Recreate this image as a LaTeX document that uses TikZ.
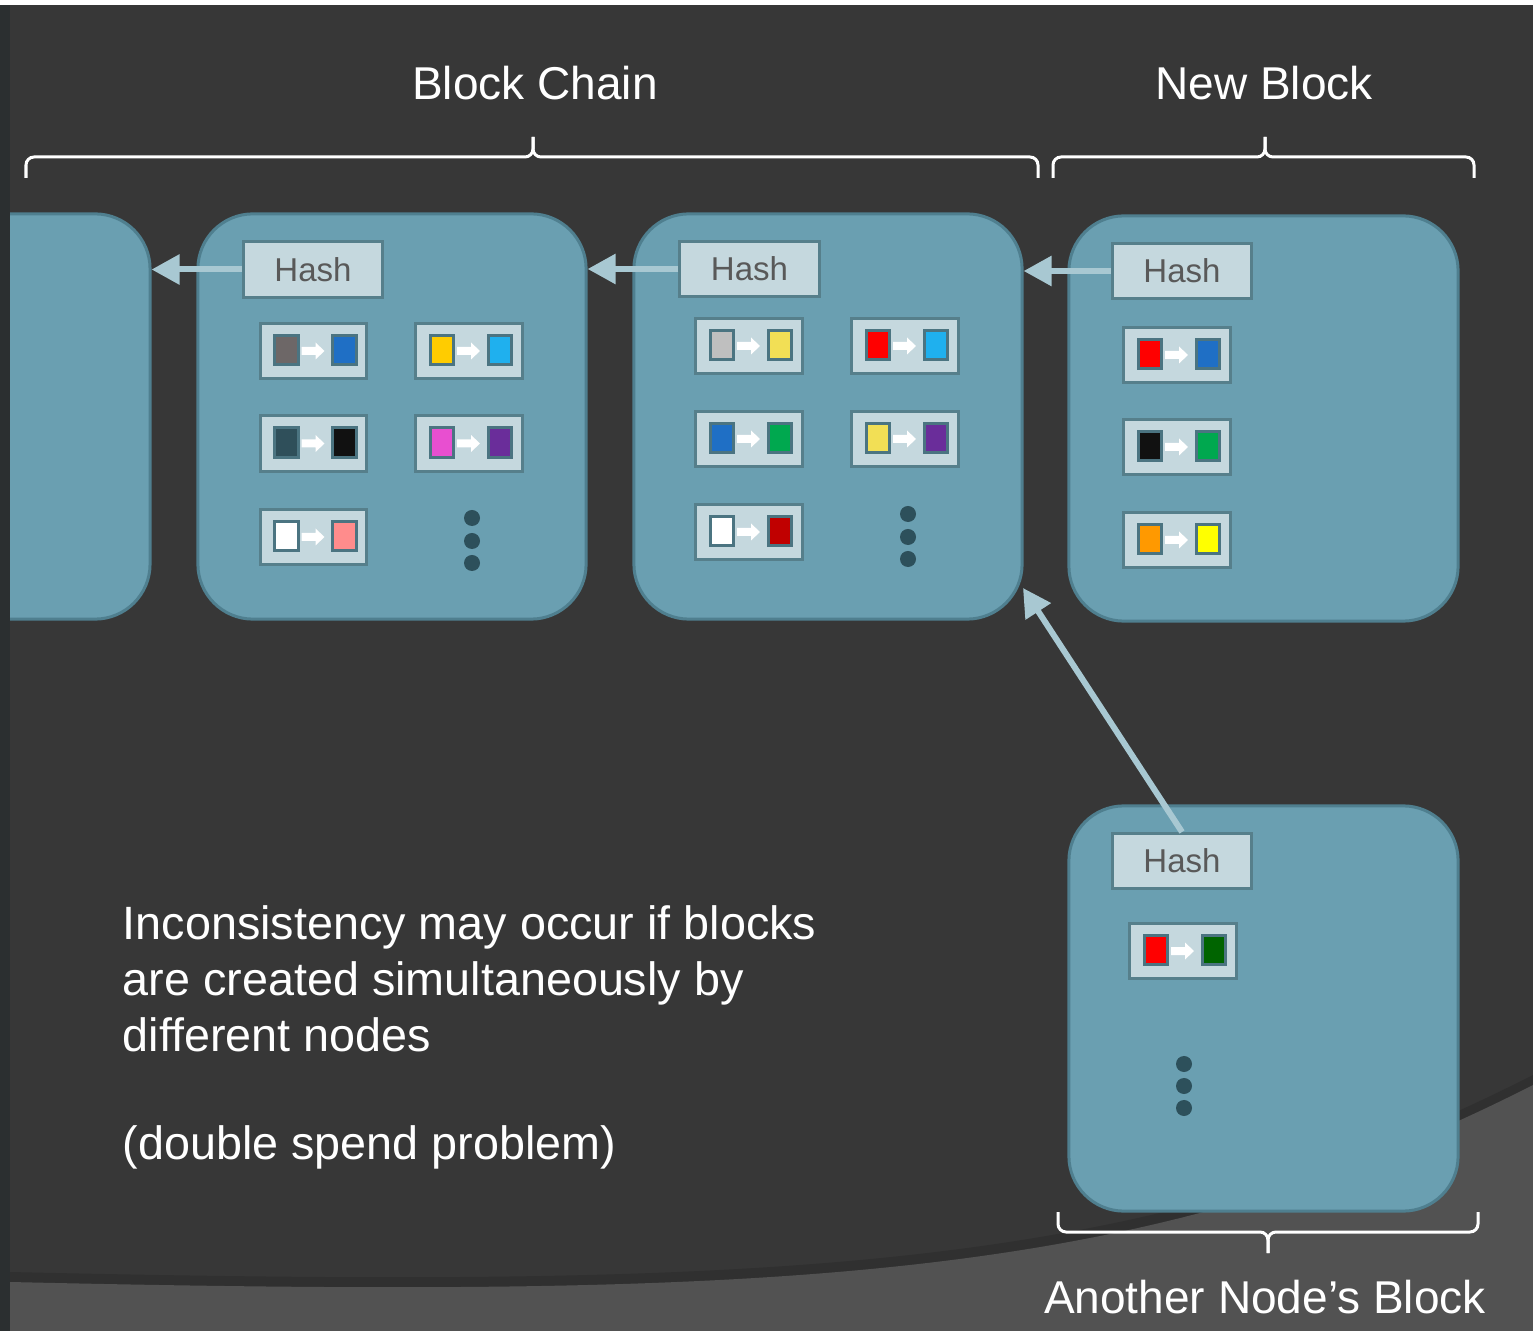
\documentclass[tikz,border=0pt]{standalone}
\usepackage{fontspec}
\setmainfont{Liberation Sans}
\usetikzlibrary{arrows.meta}

\definecolor{bgdark}{HTML}{373737}
\definecolor{floorc}{HTML}{525252}
\definecolor{shadowc}{HTML}{303030}
\definecolor{edgec}{HTML}{2B2F30}
\definecolor{blockfill}{HTML}{6A9FB1}
\definecolor{blockline}{HTML}{4F7F8F}
\definecolor{hashfill}{HTML}{C5D8DE}
\definecolor{hashline}{HTML}{567F8B}
\definecolor{hashtext}{HTML}{595959}
\definecolor{linkc}{HTML}{A8C8D2}
\definecolor{coinline}{HTML}{4B7481}
\definecolor{dotc}{HTML}{2D505B}
% coin colours
\definecolor{cgray}{HTML}{6D6767}
\definecolor{cblue}{HTML}{1F6FC5}
\definecolor{cgold}{HTML}{FFCC00}
\definecolor{ccyan}{HTML}{1FB0EE}
\definecolor{cteal}{HTML}{2F4F5A}
\definecolor{cblack}{HTML}{111111}
\definecolor{cmagenta}{HTML}{E84FD0}
\definecolor{cpurple}{HTML}{6A2D9A}
\definecolor{cpink}{HTML}{FF8C8C}
\definecolor{clgray}{HTML}{BFBFBF}
\definecolor{clyellow}{HTML}{F2DF55}
\definecolor{cred}{HTML}{FF0000}
\definecolor{cgreen}{HTML}{00A84F}
\definecolor{cdred}{HTML}{C00000}
\definecolor{corange}{HTML}{FF9900}
\definecolor{cyellow}{HTML}{FFFF00}
\definecolor{cdgreen}{HTML}{006400}

% one transaction: box with two coins and a small white arrow
\newcommand\txpair[5]{%
  \begin{scope}[shift={(#2,#3)}]
    \node[txbox] (#1) at (0,0) {};
    \node[coin, fill=#4] (#1a) at (-27,-1) {};
    \node[coin, fill=#5] (#1b) at (31,-1) {};
    \fill[white] (-12,-4) -- (2,-4) -- (2,-8.5) -- (11,0) -- (2,8.5) -- (2,4) -- (-12,4) -- cycle;
  \end{scope}}

\begin{document}
\begin{tikzpicture}[x=0.01cm,y=-0.01cm,
  block/.style={draw=blockline, fill=blockfill, line width=0.03cm,
    rounded corners=0.55cm, inner sep=0pt},
  hashbox/.style={draw=hashline, fill=hashfill, line width=0.03cm,
    minimum width=1.39cm, minimum height=0.55cm, inner sep=0pt,
    text=hashtext, font=\fontsize{9.4pt}{11pt}\selectfont},
  txbox/.style={draw=hashline, fill=hashfill, line width=0.03cm,
    minimum width=1.06cm, minimum height=0.55cm, inner sep=0pt},
  coin/.style={draw=coinline, line width=0.03cm,
    minimum width=0.23cm, minimum height=0.29cm, inner sep=0pt},
  dotmark/.style={circle, fill=dotc, minimum size=0.16cm, inner sep=0pt},
  link/.style={draw=linkc, line width=0.06cm,
    -{Triangle[length=0.28cm,width=0.29cm]}},
  bracket/.style={draw=white, line width=0.03cm, rounded corners=0.08cm},
  lbl/.style={text=white, font=\fontsize{13.09pt}{15.9pt}\selectfont, inner sep=0pt}
]
\useasboundingbox (0,0) rectangle (1533,1331);

% backdrop
\fill[bgdark] (0,0) rectangle (1533,1331);
\fill[white] (0,0) rectangle (1533,5);
\fill[shadowc] (10,1272) .. controls (800,1290) and (1150,1270) .. (1533,1075)
  -- (1533,1331) -- (10,1331) -- cycle;
\fill[floorc] (10,1282) .. controls (800,1300) and (1150,1280) .. (1533,1085)
  -- (1533,1331) -- (10,1331) -- cycle;

% blocks
\node[block, minimum width=2.30cm, minimum height=4.05cm] (b0) at (35,416.5) {};
\node[block, minimum width=3.88cm, minimum height=4.05cm] (b1) at (392,416.5) {};
\node[block, minimum width=3.88cm, minimum height=4.05cm] (b2) at (828,416.5) {};
\node[block, minimum width=3.89cm, minimum height=4.05cm] (b3) at (1263.5,418.5) {};
\node[block, minimum width=3.89cm, minimum height=4.05cm] (b4) at (1263.5,1008.5) {};

% hash headers
\node[hashbox] (h1) at (313,269.5) {Hash};
\node[hashbox] (h2) at (749.5,269) {Hash};
\node[hashbox] (h3) at (1182,271) {Hash};
\node[hashbox] (h4) at (1182,861) {Hash};

% links to the previous block
\coordinate (b2fork) at (1023,588);
\draw[link] (h1.west) -- (h1.west -| b0.east);
\draw[link] (h2.west) -- (h2.west -| b1.east);
\draw[link] (h3.west) -- (h3.west -| b2.east);
\draw[link] (h4.north) -- (b2fork);

% transactions, block 1
\txpair{t11}{313.5}{351}{cgray}{cblue}
\txpair{t12}{469}{351}{cgold}{ccyan}
\txpair{t13}{313.5}{443.5}{cteal}{cblack}
\txpair{t14}{469}{443.5}{cmagenta}{cpurple}
\txpair{t15}{313.5}{537}{white}{cpink}
\node[dotmark] (d11) at (472,518) {};
\node[dotmark] (d12) at (472,541) {};
\node[dotmark] (d13) at (472,563) {};

% transactions, block 2
\txpair{t21}{749}{346}{clgray}{clyellow}
\txpair{t22}{905}{346}{cred}{ccyan}
\txpair{t23}{749}{439}{cblue}{cgreen}
\txpair{t24}{905}{439}{clyellow}{cpurple}
\txpair{t25}{749}{532}{white}{cdred}
\node[dotmark] (d21) at (908,514) {};
\node[dotmark] (d22) at (908,537) {};
\node[dotmark] (d23) at (908,559) {};

% transactions, new block
\txpair{t31}{1177}{355}{cred}{cblue}
\txpair{t32}{1177}{447}{cblack}{cgreen}
\txpair{t33}{1177}{540}{corange}{cyellow}

% transactions, competing block
\txpair{t41}{1183}{951}{cred}{cdgreen}
\node[dotmark] (d41) at (1184,1064) {};
\node[dotmark] (d42) at (1184,1086) {};
\node[dotmark] (d43) at (1184,1108) {};

% left edge strip
\fill[edgec] (0,5) rectangle (10,1331);

% brackets
\draw[bracket] (26,178) |- (533,157) -- (533,137);
\draw[bracket] (1038,178) |- (533,157) -- (533,137);
\draw[bracket] (1053,178) |- (1265,157) -- (1265,137);
\draw[bracket] (1474,178) |- (1265,157) -- (1265,137);
\draw[bracket] (1058,1212) |- (1268,1232) -- (1268,1253);
\draw[bracket] (1478,1212) |- (1268,1232) -- (1268,1253);

% labels
\node[lbl, anchor=base] (tchain) at (535,100) {Block Chain};
\node[lbl, anchor=base] (tnew) at (1264,100) {New Block};
\node[lbl, anchor=base] (tother) at (1265,1313) {Another Node’s Block};
\node[lbl, anchor=base west, align=left,
  font=\fontsize{13.29pt}{15.93pt}\selectfont] (tnote) at (122,1159)
  {Inconsistency may occur if blocks\\are created simultaneously by\\different nodes\\[0.51cm](double spend problem)};
\end{tikzpicture}
\end{document}
